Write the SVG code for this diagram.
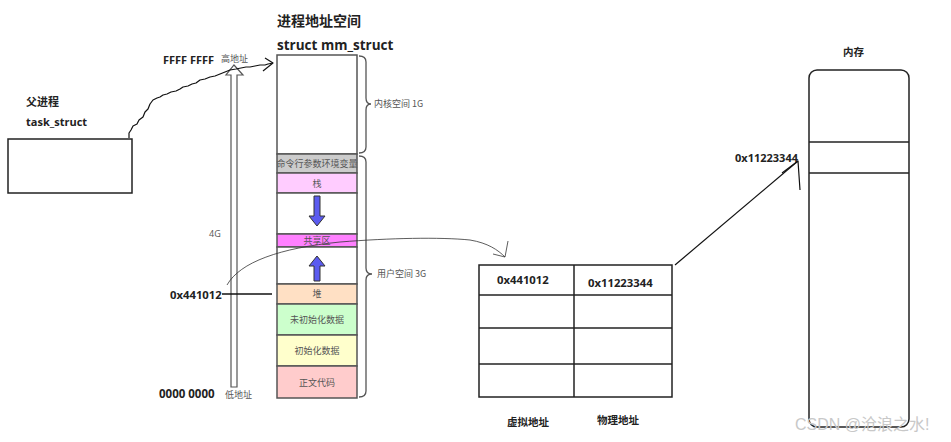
<svg xmlns="http://www.w3.org/2000/svg" width="951" height="442" viewBox="0 0 951 442">
<style>
.b{font-family:"Open Sans","Noto Sans CJK SC",sans-serif;font-weight:bold;fill:#222}
.cn{font-family:"Noto Sans CJK SC",sans-serif;font-weight:bold;fill:#222}
.s{font-family:"Noto Sans CJK SC",sans-serif;font-size:9px;fill:#555}
.seg{stroke:#555;stroke-width:1.5}
.box{fill:#fff;stroke:#222;stroke-width:1.5}
.hand{fill:none;stroke:#111;stroke-width:1.2;stroke-linejoin:round}
</style>
<rect width="951" height="442" fill="#fff"/>

<g id="title">
<text class="cn" x="277" y="26" font-size="14">进程地址空间</text>
<text class="b" x="277" y="50" font-size="13.5">struct mm_struct</text>
</g>

<g id="parent">
<text class="cn" x="26" y="106" font-size="11">父进程</text>
<text class="b" x="26" y="126" font-size="11">task_struct</text>
<rect class="box" x="8" y="139" width="124" height="54"/>
</g>

<g id="addr-axis">
<text class="b" x="163" y="64" font-size="11">FFFF FFFF</text>
<text class="s" x="221" y="62" font-size="9">高地址</text>
<text class="b" x="159" y="398" font-size="11.5">0000 0000</text>
<text class="s" x="225" y="398">低地址</text>
<text class="s" x="209" y="237" font-size="9.5" style="font-family:'Open Sans',sans-serif">4G</text>
<path d="M231,387 L231,75 L226,75 L234,65 L243,75 L237,75 L237,387 Z" fill="#fff" stroke="#555" stroke-width="1.2"/>
<text class="b" x="170" y="299" font-size="11.3">0x441012</text>
</g>

<g id="mm-struct">
<rect x="277" y="55" width="80" height="99" fill="#fff" class="seg"/>
<rect x="277" y="154" width="80" height="19" fill="#cccccc" class="seg"/>
<rect x="277" y="173" width="80" height="20" fill="#ffccff" class="seg"/>
<rect x="277" y="193" width="80" height="41" fill="#fff" class="seg"/>
<rect x="277" y="234" width="80" height="13" fill="#ff80ff" class="seg"/>
<rect x="277" y="247" width="80" height="37" fill="#fff" class="seg"/>
<rect x="277" y="284" width="80" height="20" fill="#ffe0c4" class="seg"/>
<rect x="277" y="304" width="80" height="31" fill="#ccffcc" class="seg"/>
<rect x="277" y="335" width="80" height="31" fill="#ffffcc" class="seg"/>
<rect x="277" y="366" width="80" height="32" fill="#ffcccc" class="seg"/>
<text class="s" x="317" y="167" text-anchor="middle">命令行参数环境变量</text>
<text class="s" x="317" y="187" text-anchor="middle">栈</text>
<text class="s" x="317" y="244" text-anchor="middle">共享区</text>
<text class="s" x="317" y="297" text-anchor="middle">堆</text>
<text class="s" x="317" y="323" text-anchor="middle">未初始化数据</text>
<text class="s" x="317" y="354" text-anchor="middle">初始化数据</text>
<text class="s" x="317" y="386" text-anchor="middle">正文代码</text>
<path d="M314,196 L320,196 L320,216 L325,216 L317,226 L309,216 L314,216 Z" fill="#5b5bf0" stroke="#333" stroke-width="1"/>
<path d="M314,281 L320,281 L320,266 L325,266 L317,256 L309,266 L314,266 Z" fill="#5b5bf0" stroke="#333" stroke-width="1"/>
<path d="M359,56 Q366,56 366,62 L366,98 Q366,104 371,104 Q366,104 366,110 L366,147 Q366,153 359,153" fill="none" stroke="#555" stroke-width="1.3"/>
<text class="s" x="374" y="107">内核空间 1G</text>
<path d="M359,156 Q366,156 366,162 L366,268 Q366,274 372,274 Q366,274 366,280 L366,391 Q366,397 359,397" fill="none" stroke="#555" stroke-width="1.3"/>
<text class="s" x="377" y="277">用户空间 3G</text>
</g>

<g id="page-table">
<rect class="box" x="479" y="265" width="193" height="132"/>
<line x1="574" y1="265" x2="574" y2="397" stroke="#222" stroke-width="1.5"/>
<line x1="479" y1="295" x2="672" y2="295" stroke="#222" stroke-width="1.5"/>
<line x1="479" y1="328" x2="672" y2="328" stroke="#222" stroke-width="1.5"/>
<line x1="479" y1="364" x2="672" y2="364" stroke="#222" stroke-width="1.5"/>
<text class="b" x="497" y="284" font-size="11.3">0x441012</text>
<text class="b" x="588" y="287" font-size="11.3">0x11223344</text>
<text class="cn" x="507" y="426" font-size="10.5">虚拟地址</text>
<text class="cn" x="597" y="424" font-size="10.5">物理地址</text>
</g>

<g id="memory">
<text class="cn" x="843" y="56" font-size="10.5">内存</text>
<rect class="box" x="809" y="70" width="100" height="357" rx="8"/>
<line x1="809" y1="142" x2="909" y2="142" stroke="#222" stroke-width="1.5"/>
<line x1="809" y1="173" x2="909" y2="173" stroke="#222" stroke-width="1.5"/>
<text class="b" x="735" y="162" font-size="11">0x11223344</text>
</g>

<g id="connectors">
<path class="hand" d="M129,138 L129,133 L131,130 L133,126 L137,124 L139,120 L143,117 L145,112 L148,109 L150,104 L153,100 L157,98 L160,97 L163,95 L167,94 L171,92 L176,91 L180,89 L183,87 L188,86 L192,84 L196,83 L200,80 L205,79 L210,77 L215,76 L220,74 L225,72 L230,70 L236,69 L241,68 L246,67 L250,67 L255,66 L260,65 L265,65 L268,64 L273,63"/>
<path class="hand" d="M265,58 L273,63 L263,71"/>
<path d="M227,285 C240,262 280,248 340,242 C390,238 440,237 470,240 C488,243 498,250 505,257" fill="none" stroke="#333" stroke-width="0.8"/>
<path d="M508,241 L505,257 L493,254" fill="none" stroke="#333" stroke-width="0.8"/>
<path d="M222,294 L272,294" stroke="#111" stroke-width="1.3"/>
<path class="hand" d="M675,265 L798,161"/>
<path class="hand" d="M782,173 L798,161 L800,190"/>
</g>

<text x="795" y="430" font-family="'Liberation Sans','Noto Sans CJK SC',sans-serif" font-size="16" fill="#c8c8c8">CSDN @沧浪之水!</text>
</svg>
